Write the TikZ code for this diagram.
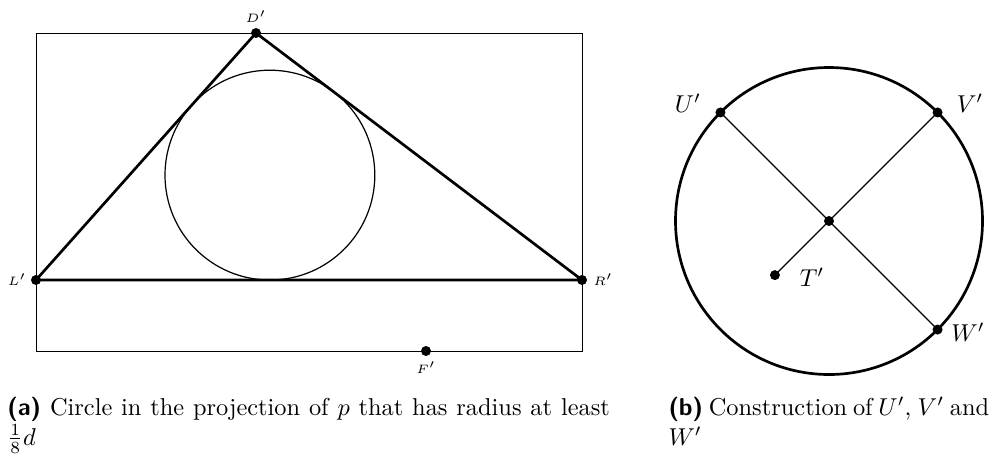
\documentclass[tikz,border=0pt]{standalone}
\usetikzlibrary{calc}
\begin{document}
\begin{tikzpicture}[x=0.41pt,y=0.41pt,
 boxline/.style={line width=0.4pt},
 tri/.style={line width=1.1pt, line join=round},
 thinln/.style={line width=0.5pt},
 dot/.style={fill=black},
 lbl/.style={font=\tiny, inner sep=0pt},
 lblb/.style={font=\normalsize, inner sep=0pt},
 captxt/.style={font=\normalsize, inner sep=0pt, anchor=north west, align=justify},
]
 \useasboundingbox (0,0) rectangle (992,454);
 % (a) projection with its incircle
 \coordinate (D) at (256,421);
 \coordinate (L) at (36,174);
 \coordinate (R) at (582,174);
 \coordinate (F) at (426,103);
 \coordinate (I) at (269.9,278.9);
 \draw[boxline] (36,103) rectangle (582,421);
 \draw[thinln] (I) circle (104.9);
 \draw[tri] (L) -- (D) -- (R) -- cycle;
 \foreach \p in {D,L,R,F}{\fill[dot] (\p) circle (5);}
 \node[lbl] (lD) at (256,437) {$D'$};
 \node[lbl] (lL) at (17,174) {$L'$};
 \node[lbl] (lR) at (603,174) {$R'$};
 \node[lbl] (lF) at (426,86) {$F'$};
 % (b) the circle and its cross
 \coordinate (C) at (829,233);
 \coordinate (U) at ($(C)+(135:153.5)$);
 \coordinate (V) at ($(C)+(45:153.5)$);
 \coordinate (W) at ($(C)+(-45:153.5)$);
 \coordinate (T) at ($(C)+(225:76.5)$);
 \draw[line width=1.1pt] (C) circle (153.5);
 \draw[thinln] (U) -- (W);
 \draw[thinln] (T) -- (V);
 \foreach \p in {C,U,V,W,T}{\fill[dot] (\p) circle (5);}
 \node[lblb] (lU) at (688,351) {$U'$};
 \node[lblb] (lV) at (970,351) {$V'$};
 \node[lblb] (lW) at (968,122) {$W'$};
 \node[lblb] (lT) at (812,177) {$T'$};
 % captions
 \node[captxt, text width=247pt] (capa) at (7,57)
   {\textsf{\textbf{(a)}} Circle in the projection of $p$ that has radius at least\linebreak $\frac{1}{8}d$};
 \node[captxt, text width=131.5pt] (capb) at (668,57)
   {\textsf{\textbf{(b)}} Construction of $U'$, $V'$ and\linebreak $W'$};
\end{tikzpicture}
\end{document}
